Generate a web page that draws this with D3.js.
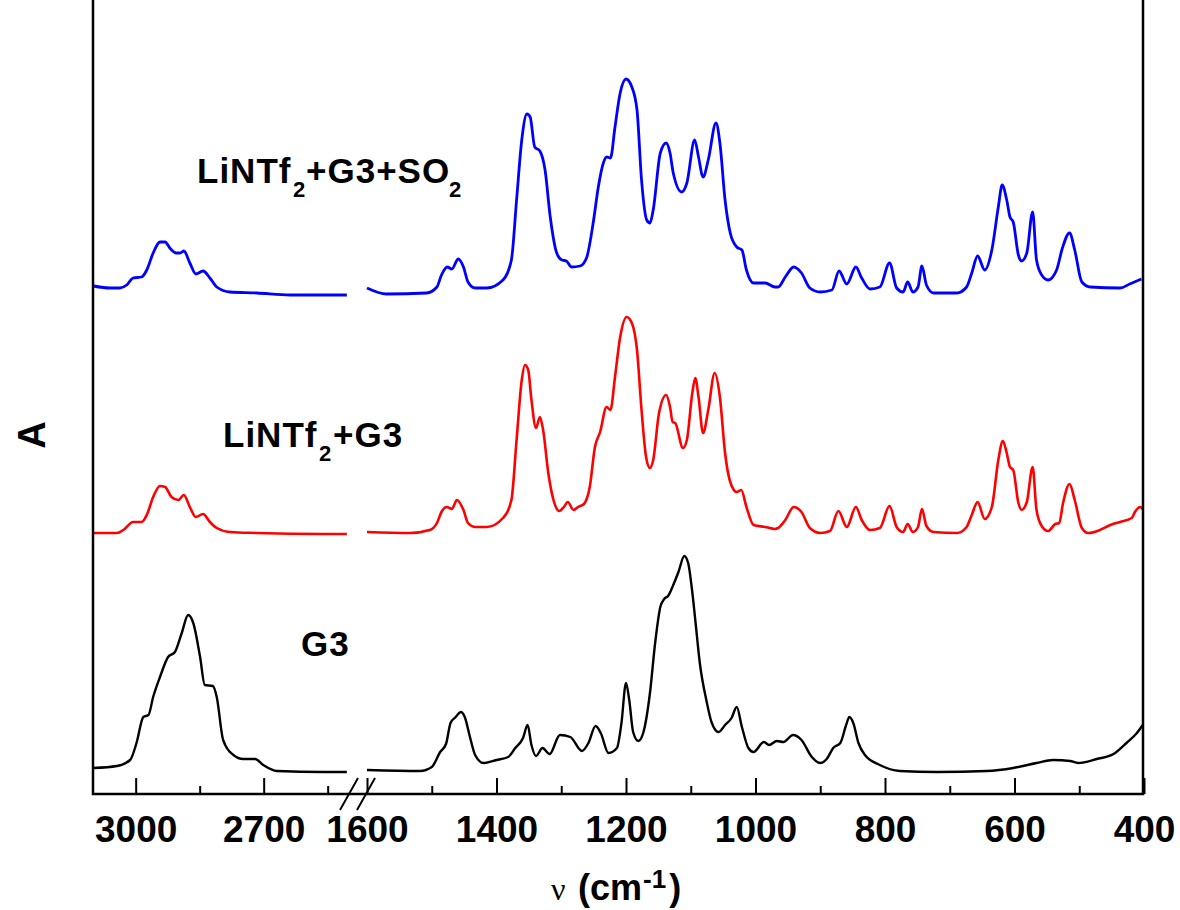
<!DOCTYPE html>
<html>
<head>
<meta charset="utf-8">
<title>IR spectra</title>
<style>
  body { margin: 0; background: #fff; }
  svg text { font-family: "Liberation Sans", Arial, sans-serif; font-weight: bold; }
</style>
</head>
<body>
<svg id="chart" width="1180" height="910"></svg>
<script src="https://cdn.jsdelivr.net/npm/d3@7"></script>
<script>
// spectra: [wavenumber cm-1, absorbance (stacked, arb.)]
const so2Spectrum = [
  [3099,5.08],[3060,5.06],[3037,5.06],[3021,5.09],[3006,5.16],[2986,5.17],[2974,5.24],[2959,5.41],
  [2943,5.52],[2931,5.52],[2920,5.46],[2905,5.41],[2896,5.41],[2887,5.43],[2873,5.31],[2859,5.20],
  [2842,5.23],[2826,5.16],[2810,5.07],[2779,5.02],[2716,5.01],[2638,4.99],[2505,4.99],
  [1600,5.06],[1570,5.00],[1508,5.01],[1492,5.07],[1485,5.19],[1476,5.27],[1469,5.25],[1459,5.35],
  [1451,5.27],[1444,5.12],[1433,5.06],[1415,5.06],[1390,5.14],[1377,5.34],[1369,5.94],[1361,6.54],
  [1353,6.80],[1348,6.77],[1341,6.47],[1333,6.43],[1325,6.24],[1317,5.77],[1307,5.41],[1299,5.34],
  [1292,5.33],[1284,5.27],[1271,5.28],[1261,5.36],[1250,5.74],[1243,6.06],[1235,6.31],[1230,6.37],
  [1224,6.36],[1217,6.67],[1209,7.01],[1200,7.15],[1191,7.07],[1183,6.84],[1176,6.14],[1168,5.74],
  [1163,5.71],[1158,5.84],[1147,6.41],[1138,6.51],[1132,6.41],[1127,6.21],[1114,6.02],[1106,6.11],
  [1094,6.54],[1088,6.37],[1081,6.17],[1073,6.34],[1061,6.71],[1055,6.51],[1047,5.94],[1039,5.61],
  [1029,5.47],[1021,5.44],[1014,5.24],[1003,5.11],[985,5.11],[970,5.07],[965,5.07],[954,5.17],
  [941,5.27],[929,5.21],[916,5.06],[900,5.02],[882,5.04],[871,5.23],[859,5.10],[845,5.27],
  [836,5.16],[823,5.05],[808,5.07],[793,5.31],[782,5.06],[772,5.02],[765,5.12],[757,5.02],
  [749,5.07],[743,5.28],[736,5.09],[725,5.01],[689,5.01],[674,5.07],[666,5.21],[657,5.38],
  [646,5.24],[635,5.44],[625,5.87],[619,6.09],[612,5.94],[607,5.77],[602,5.72],[594,5.39],
  [589,5.33],[581,5.41],[572,5.82],[566,5.34],[558,5.19],[548,5.14],[535,5.24],[526,5.46],
  [515,5.61],[507,5.44],[496,5.12],[483,5.07],[437,5.06],[422,5.10],[404,5.15]
];
const litfsiSpectrum = [
  [3099,2.61],[3044,2.61],[3029,2.64],[3006,2.72],[2986,2.72],[2974,2.79],[2959,2.97],[2943,3.08],
  [2931,3.07],[2916,2.97],[2900,2.94],[2887,2.99],[2873,2.87],[2859,2.77],[2842,2.80],[2826,2.72],
  [2810,2.66],[2779,2.62],[2716,2.61],[2560,2.60],[2505,2.60],
  [1600,2.62],[1534,2.61],[1503,2.64],[1492,2.71],[1485,2.82],[1477,2.87],[1469,2.85],[1461,2.94],
  [1451,2.84],[1444,2.71],[1433,2.67],[1415,2.67],[1390,2.76],[1377,2.94],[1369,3.54],[1361,4.14],
  [1356,4.29],[1351,4.24],[1346,3.94],[1339,3.66],[1333,3.77],[1328,3.64],[1320,3.21],[1312,2.94],
  [1303,2.83],[1296,2.87],[1290,2.92],[1281,2.84],[1274,2.87],[1265,2.90],[1256,3.07],[1248,3.47],
  [1240,3.62],[1230,3.87],[1224,3.84],[1217,4.17],[1209,4.57],[1199,4.77],[1191,4.71],[1183,4.44],
  [1176,3.84],[1169,3.37],[1163,3.26],[1158,3.34],[1149,3.81],[1138,3.99],[1132,3.87],[1128,3.72],
  [1124,3.71],[1112,3.46],[1106,3.54],[1098,3.99],[1093,4.16],[1088,3.97],[1081,3.61],[1073,3.84],
  [1063,4.21],[1055,3.97],[1047,3.41],[1039,3.12],[1029,3.02],[1022,3.04],[1014,2.87],[1003,2.69],
  [985,2.67],[970,2.65],[965,2.66],[954,2.74],[941,2.87],[929,2.82],[916,2.66],[900,2.61],
  [885,2.63],[872,2.83],[859,2.67],[845,2.87],[836,2.74],[823,2.64],[808,2.66],[793,2.88],
  [782,2.67],[772,2.62],[765,2.70],[757,2.62],[749,2.67],[743,2.85],[736,2.68],[725,2.62],
  [689,2.61],[674,2.67],[666,2.79],[657,2.92],[646,2.75],[635,2.87],[625,3.34],[618,3.53],
  [612,3.41],[607,3.27],[602,3.24],[594,2.91],[589,2.84],[581,2.92],[572,3.27],[566,2.84],
  [558,2.68],[548,2.63],[537,2.70],[531,2.71],[525,2.91],[515,3.10],[507,2.94],[496,2.66],
  [486,2.61],[468,2.64],[452,2.69],[437,2.72],[419,2.76],[414,2.82],[406,2.87],[402,2.85]
];
const g3Spectrum = [
  [3099,0.26],[3044,0.28],[3013,0.34],[2998,0.51],[2982,0.77],[2970,0.79],[2959,0.97],[2943,1.17],
  [2924,1.37],[2908,1.42],[2892,1.61],[2877,1.79],[2865,1.71],[2849,1.37],[2838,1.09],[2819,1.08],
  [2810,0.97],[2795,0.54],[2771,0.39],[2748,0.35],[2720,0.35],[2701,0.29],[2669,0.23],[2560,0.22],
  [2505,0.22],
  [1600,0.24],[1518,0.23],[1500,0.27],[1487,0.42],[1478,0.50],[1471,0.71],[1463,0.77],[1455,0.82],
  [1449,0.77],[1441,0.57],[1433,0.39],[1420,0.31],[1400,0.34],[1382,0.37],[1371,0.46],[1359,0.56],
  [1352,0.69],[1346,0.49],[1339,0.38],[1329,0.46],[1318,0.40],[1302,0.59],[1286,0.57],[1268,0.43],
  [1258,0.51],[1247,0.68],[1239,0.61],[1227,0.41],[1214,0.46],[1207,0.71],[1200,1.11],[1195,0.94],
  [1189,0.62],[1181,0.53],[1173,0.62],[1163,1.01],[1155,1.51],[1147,1.87],[1141,1.95],[1135,1.98],
  [1127,2.09],[1119,2.22],[1110,2.38],[1104,2.31],[1098,2.04],[1093,1.74],[1086,1.31],[1075,0.91],
  [1068,0.72],[1057,0.62],[1047,0.69],[1037,0.76],[1029,0.87],[1021,0.67],[1011,0.46],[1003,0.42],
  [987,0.52],[979,0.49],[967,0.53],[957,0.52],[942,0.59],[929,0.54],[913,0.37],[900,0.31],
  [890,0.35],[880,0.46],[869,0.51],[860,0.69],[855,0.77],[849,0.71],[841,0.51],[831,0.39],
  [808,0.29],[777,0.23],[720,0.22],[643,0.23],[602,0.26],[566,0.31],[540,0.34],[514,0.33],
  [502,0.31],[473,0.35],[447,0.40],[427,0.51],[411,0.61],[402,0.69]
];

const leftMajor = [3000, 2700], leftMinor = [2850, 2550];
const rightMajor = [1600, 1400, 1200, 1000, 800, 600, 400];
const rightMinor = [1500, 1300, 1100, 900, 700, 500];

const series = [
  { name: "so2", data: so2Spectrum, color: "#0000ff", width: 2.8 },
  { name: "litfsi", data: litfsiSpectrum, color: "#ff0000", width: 2.6 },
  { name: "g3", data: g3Spectrum, color: "#000000", width: 2.4 }
];

const svg = d3.select("#chart");
const plotL = 93, plotR = 1143, plotB = 794, plotT = 0;

const xLeft = d3.scaleLinear().domain([3100, 2500]).range([93, 349]);
const xRight = d3.scaleLinear().domain([1600, 400]).range([367, 1144]);
const y = d3.scaleLinear().domain([0, 7.94]).range([plotB, plotT]);

// curves, two pieces each (left of the break / right of it)
series.forEach(function(s) {
  const hi = s.data.filter(d => d[0] >= 2500);
  const lo = s.data.filter(d => d[0] <= 1600);
  const lineHi = d3.line().x(d => xLeft(d[0])).y(d => y(d[1])).curve(d3.curveMonotoneX);
  const lineLo = d3.line().x(d => xRight(d[0])).y(d => y(d[1])).curve(d3.curveMonotoneX);
  [[hi, lineHi], [lo, lineLo]].forEach(function(p) {
    svg.append("path").datum(p[0])
      .attr("d", p[1])
      .attr("fill", "none")
      .attr("stroke", s.color)
      .attr("stroke-width", s.width)
      .attr("stroke-linejoin", "round");
  });
});

// frame
svg.append("path")
  .attr("d", `M${plotL},${plotT}V${plotB}H${plotR}V${plotT}`)
  .attr("fill", "none").attr("stroke", "#000").attr("stroke-width", 2.5);

// axes
function drawAxis(scale, major, minor) {
  const gMaj = svg.append("g").attr("transform", `translate(0,${plotB})`)
    .call(d3.axisBottom(scale).tickValues(major).tickSize(-16).tickFormat(d3.format("d")));
  gMaj.select(".domain").remove();
  gMaj.selectAll("line").attr("stroke-width", 2);
  gMaj.selectAll("text").attr("y", 48).attr("dy", 0)
    .style("font-size", "37px").attr("fill", "#000");
  const gMin = svg.append("g").attr("transform", `translate(0,${plotB})`)
    .call(d3.axisBottom(scale).tickValues(minor).tickSize(-8).tickFormat(""));
  gMin.select(".domain").remove();
  gMin.selectAll("line").attr("stroke-width", 2);
}
drawAxis(xLeft, leftMajor, leftMinor);
drawAxis(xRight, rightMajor, rightMinor);

// axis break marks
const brk = svg.append("g").attr("stroke", "#000").attr("stroke-width", 2);
brk.append("line").attr("x1", 340).attr("y1", 810).attr("x2", 358).attr("y2", 778);
brk.append("line").attr("x1", 357).attr("y1", 810).attr("x2", 375).attr("y2", 778);

// axis titles
svg.append("text")
  .attr("transform", "translate(45,435) rotate(-90)")
  .attr("text-anchor", "middle")
  .style("font-size", "38px")
  .text("A");

const xt = svg.append("text").attr("y", 900).style("font-size", "36px");
xt.append("tspan").attr("x", 551).style("font-family", "'Liberation Serif', serif")
  .style("font-weight", "normal").style("font-size", "32px").text("\u03bd");
xt.append("tspan").attr("x", 578).text("(cm");
xt.append("tspan").attr("dx", 1).attr("dy", -12).style("font-size", "26px").text("-1");
xt.append("tspan").attr("dx", 3).attr("dy", 12).text(")");

// series labels: pieces placed where they sit in the figure
function label(yb, parts) {
  const t = svg.append("text").attr("y", yb).style("font-size", "35px").style("letter-spacing", "1px");
  parts.forEach(function(p) {
    const sp = t.append("tspan").attr("x", p.x).text(p.t);
    if (p.sub) sp.attr("y", yb + 14).style("font-size", "22px");
    else sp.attr("y", yb);
  });
}
label(183, [{x: 197, t: "LiNTf"}, {x: 293, t: "2", sub: true}, {x: 306, t: "+G3+SO"}, {x: 449, t: "2", sub: true}]);
label(447, [{x: 223, t: "LiNTf"}, {x: 319, t: "2", sub: true}, {x: 333, t: "+G3"}]);
label(656, [{x: 301, t: "G3"}]);
</script>
</body>
</html>
